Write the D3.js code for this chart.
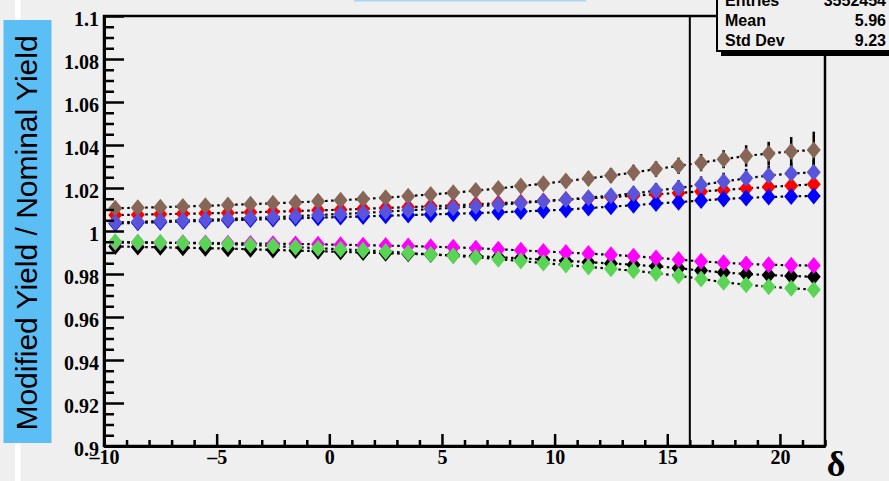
<!DOCTYPE html>
<html>
<head>
<meta charset="utf-8">
<script src="https://cdn.jsdelivr.net/npm/d3@7"></script>
<style>
  html, body { margin: 0; padding: 0; background: #efefef; }
  svg { display: block; }
</style>
</head>
<body>
<svg id="chart" width="889" height="481"></svg>
<script>
// Bin centres along δ
const deltaBins = [-9.5, -8.5, -7.5, -6.5, -5.5, -4.5, -3.5, -2.5, -1.5, -0.5,
  0.5, 1.5, 2.5, 3.5, 4.5, 5.5, 6.5, 7.5, 8.5, 9.5,
  10.5, 11.5, 12.5, 13.5, 14.5, 15.5, 16.5, 17.5, 18.5, 19.5, 20.5, 21.5];

// Ratio of modified to nominal yield, one list per variation
const ratioBlack = [0.9928, 0.9926, 0.9924, 0.9922, 0.9920, 0.9918, 0.9915, 0.9912, 0.9909, 0.9906,
  0.9903, 0.9900, 0.9897, 0.9894, 0.9891, 0.9887, 0.9883, 0.9878, 0.9873, 0.9867,
  0.9861, 0.9855, 0.9849, 0.9843, 0.9836, 0.9827, 0.9816, 0.9807, 0.9800, 0.9795, 0.9791, 0.9787];
const ratioRed = [1.0074, 1.0076, 1.0078, 1.0080, 1.0082, 1.0084, 1.0087, 1.0090, 1.0093, 1.0096,
  1.0099, 1.0103, 1.0107, 1.0111, 1.0115, 1.0119, 1.0124, 1.0129, 1.0134, 1.0140,
  1.0146, 1.0152, 1.0158, 1.0164, 1.0171, 1.0177, 1.0184, 1.0191, 1.0198, 1.0205, 1.0211, 1.0217];
const ratioBlue = [1.0035, 1.0038, 1.0041, 1.0044, 1.0047, 1.0050, 1.0053, 1.0056, 1.0059, 1.0062,
  1.0065, 1.0068, 1.0071, 1.0074, 1.0077, 1.0080, 1.0083, 1.0087, 1.0091, 1.0095,
  1.0099, 1.0107, 1.0113, 1.0120, 1.0128, 1.0134, 1.0142, 1.0149, 1.0154, 1.0158, 1.0161, 1.0163];
const ratioMagenta = [0.9946, 0.9946, 0.9945, 0.9945, 0.9944, 0.9943, 0.9942, 0.9941, 0.9940, 0.9938,
  0.9936, 0.9934, 0.9932, 0.9930, 0.9927, 0.9924, 0.9920, 0.9915, 0.9910, 0.9905,
  0.9900, 0.9895, 0.9889, 0.9883, 0.9875, 0.9867, 0.9859, 0.9852, 0.9847, 0.9843, 0.9841, 0.9839];
const ratioGreen = [0.9950, 0.9948, 0.9946, 0.9944, 0.9942, 0.9939, 0.9935, 0.9930, 0.9925, 0.9920,
  0.9915, 0.9910, 0.9905, 0.9898, 0.9891, 0.9885, 0.9878, 0.9869, 0.9860, 0.9851,
  0.9842, 0.9833, 0.9824, 0.9815, 0.9804, 0.9792, 0.9777, 0.9762, 0.9750, 0.9741, 0.9734, 0.9727];
const ratioBrown = [1.0106, 1.0108, 1.0111, 1.0114, 1.0117, 1.0121, 1.0125, 1.0129, 1.0133, 1.0138,
  1.0143, 1.0149, 1.0155, 1.0162, 1.0170, 1.0178, 1.0188, 1.0198, 1.0209, 1.0220,
  1.0232, 1.0244, 1.0258, 1.0272, 1.0288, 1.0303, 1.0318, 1.0334, 1.0349, 1.0361, 1.0370, 1.0377];
const ratioSlate = [1.0040, 1.0043, 1.0046, 1.0049, 1.0052, 1.0056, 1.0060, 1.0064, 1.0069, 1.0074,
  1.0079, 1.0084, 1.0090, 1.0096, 1.0102, 1.0108, 1.0115, 1.0122, 1.0130, 1.0138,
  1.0146, 1.0155, 1.0164, 1.0174, 1.0188, 1.0200, 1.0215, 1.0230, 1.0245, 1.0258, 1.0267, 1.0273];

// Statistical uncertainties on the two largest variations
const errBrown = [0.0012, 0.0012, 0.0013, 0.0013, 0.0014, 0.0014, 0.0015, 0.0015, 0.0016, 0.0017,
  0.0018, 0.0019, 0.0020, 0.0021, 0.0022, 0.0023, 0.0024, 0.0025, 0.0027, 0.0029,
  0.0031, 0.0033, 0.0035, 0.0036, 0.0037, 0.0038, 0.0040, 0.0042, 0.0050, 0.0054, 0.0067, 0.0085];
const errSlate = [0.0010, 0.0010, 0.0011, 0.0011, 0.0012, 0.0012, 0.0013, 0.0013, 0.0014, 0.0014,
  0.0015, 0.0016, 0.0017, 0.0018, 0.0019, 0.0020, 0.0021, 0.0022, 0.0023, 0.0025,
  0.0027, 0.0029, 0.0031, 0.0033, 0.0035, 0.0037, 0.0039, 0.0041, 0.0044, 0.0047, 0.0052, 0.0060];

const yMajorTicks = [0.9, 0.92, 0.94, 0.96, 0.98, 1.0, 1.02, 1.04, 1.06, 1.08, 1.1];
const xMajorTicks = [-10, -5, 0, 5, 10, 15, 20];
const statsLabels = ["Entries", "Mean", "Std Dev"];
const statsValues = ["3552454", "5.96", "9.23"];
const cutValue = 16;

// Drawing order: later series sit on top
const series = [
  { values: ratioBlack, color: "#000000" },
  { values: ratioRed, color: "#ff0000" },
  { values: ratioBlue, color: "#0000ff" },
  { values: ratioMagenta, color: "#ff00ff" },
  { values: ratioGreen, color: "#59d454" },
  { values: ratioBrown, color: "#876657", err: errBrown },
  { values: ratioSlate, color: "#5954d9", err: errSlate }
];

const svg = d3.select("#chart");
const W = 889, H = 481;
const plotL = 104, plotR = 825, plotT = 16, plotB = 446;

const x = d3.scaleLinear().domain([-10, 22]).range([plotL, plotR]);
const y = d3.scaleLinear().domain([0.9, 1.1]).range([plotB, plotT]);

svg.append("rect").attr("width", W).attr("height", H).attr("fill", "#efefef");

// Thin highlight band at the very top
svg.append("rect").attr("x", 354).attr("y", 0).attr("width", 232).attr("height", 1.5).attr("fill", "#a8d8f4");

// White strip along the left margin
svg.append("rect").attr("x", 15).attr("y", 0).attr("width", 5.5).attr("height", H).attr("fill", "#ffffff");

// Connecting dotted lines
const line = d3.line().x((d, i) => x(deltaBins[i])).y(d => y(d));
const gLines = svg.append("g");
series.forEach(s => {
  gLines.append("path").datum(s.values).attr("d", line)
    .attr("fill", "none").attr("stroke", "#000").attr("stroke-width", 2.2)
    .attr("stroke-dasharray", "2.5,3.5");
});

// Error bars
const gErr = svg.append("g");
series.filter(s => s.err).forEach(s => {
  gErr.selectAll(null).data(s.values).join("line")
    .attr("x1", (d, i) => x(deltaBins[i])).attr("x2", (d, i) => x(deltaBins[i]))
    .attr("y1", (d, i) => y(d + s.err[i])).attr("y2", (d, i) => y(d - s.err[i]))
    .attr("stroke", "#000").attr("stroke-width", 2.5);
});

// Diamond markers
const diamond = "M0,-8.5L7,0L0,8.5L-7,0Z";
series.forEach(s => {
  svg.append("g").selectAll("path").data(s.values).join("path")
    .attr("d", diamond)
    .attr("transform", (d, i) => `translate(${x(deltaBins[i])},${y(d)})`)
    .attr("fill", s.color);
});

// Vertical cut line
svg.append("line").attr("x1", x(cutValue)).attr("x2", x(cutValue)).attr("y1", plotT).attr("y2", plotB)
  .attr("stroke", "#000").attr("stroke-width", 2);

// Frame outline
svg.append("rect").attr("x", plotL).attr("y", plotT).attr("width", plotR - plotL).attr("height", plotB - plotT)
  .attr("fill", "none").attr("stroke", "#000").attr("stroke-width", 2.5);

const tickFont = "'Liberation Serif', 'Times New Roman', serif";

// Y axis: major and minor ticks pointing inward
const yMinor = d3.range(0, 41).map(i => 0.9 + i * 0.005).filter(v => !yMajorTicks.some(t => Math.abs(t - v) < 1e-6));
svg.append("g").attr("transform", `translate(${plotL},0)`)
  .call(d3.axisLeft(y).tickValues(yMinor).tickSize(-10).tickSizeOuter(0).tickFormat(""))
  .call(g => g.select(".domain").remove())
  .call(g => g.selectAll("line").attr("stroke-width", 2.5));
svg.append("g").attr("transform", `translate(${plotL},0)`)
  .call(d3.axisLeft(y).tickValues(yMajorTicks).tickSize(-20).tickSizeOuter(0).tickPadding(5)
    .tickFormat(d => String(+d.toFixed(2))))
  .call(g => g.select(".domain").attr("stroke-width", 3))
  .call(g => g.selectAll("line").attr("stroke-width", 2.5))
  .call(g => g.selectAll("text").attr("font-family", tickFont).attr("font-weight", "bold")
    .attr("font-size", 20).attr("fill", "#000").attr("dy", "0.45em"));

// X axis: ticks pointing up
const xMinor = d3.range(-10, 23).filter(v => !xMajorTicks.includes(v));
svg.append("g").attr("transform", `translate(0,${plotB})`)
  .call(d3.axisBottom(x).tickValues(xMinor).tickSize(-6).tickSizeOuter(0).tickFormat(""))
  .call(g => g.select(".domain").remove())
  .call(g => g.selectAll("line").attr("stroke-width", 2.5));
svg.append("g").attr("transform", `translate(0,${plotB})`)
  .call(d3.axisBottom(x).tickValues(xMajorTicks).tickSize(-12).tickSizeOuter(0).tickPadding(4)
    .tickFormat(d => d < 0 ? "\u2013" + Math.abs(d) : String(d)))
  .call(g => g.select(".domain").attr("stroke-width", 3))
  .call(g => g.selectAll("line").attr("stroke-width", 2.5))
  .call(g => g.selectAll("text").attr("font-family", tickFont).attr("font-weight", "bold")
    .attr("font-size", 20).attr("fill", "#000"));

// X axis title
svg.append("text").attr("x", 836).attr("y", 476).attr("text-anchor", "middle")
  .attr("font-family", tickFont).attr("font-weight", "bold").attr("font-size", 36).text("δ");

// Y axis title on a blue box
svg.append("rect").attr("x", 3.5).attr("y", 20).attr("width", 48).attr("height", 423).attr("fill", "#5bbff6");
svg.append("text").attr("transform", "translate(37,233) rotate(-90)").attr("text-anchor", "middle")
  .attr("font-family", "'Liberation Sans', Arial, sans-serif").attr("font-size", 30).attr("fill", "#000")
  .text("Modified Yield / Nominal Yield");

// Statistics box with shadow
svg.append("rect").attr("x", 721).attr("y", -10).attr("width", 180).attr("height", 66).attr("fill", "#000");
svg.append("rect").attr("x", 717).attr("y", -10).attr("width", 180).attr("height", 61)
  .attr("fill", "#efefef").attr("stroke", "#000").attr("stroke-width", 2);
statsLabels.forEach((lab, i) => {
  const by = 5.5 + i * 20;
  svg.append("text").attr("x", 725).attr("y", by)
    .attr("font-family", "'Liberation Sans', Arial, sans-serif").attr("font-weight", "bold")
    .attr("font-size", 16).text(lab);
  svg.append("text").attr("x", 886).attr("y", by).attr("text-anchor", "end")
    .attr("font-family", "'Liberation Sans', Arial, sans-serif").attr("font-weight", "bold")
    .attr("font-size", 16).text(statsValues[i]);
});
</script>
</body>
</html>
